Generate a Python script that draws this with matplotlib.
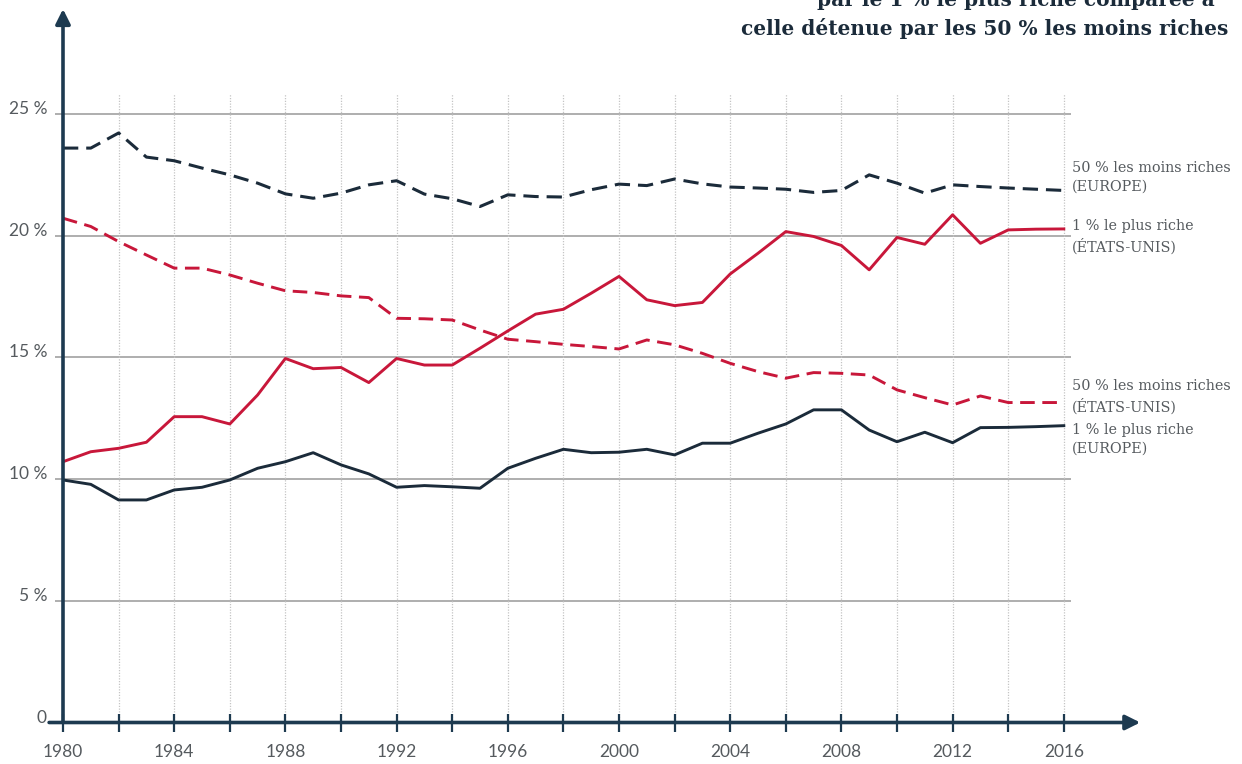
import matplotlib
matplotlib.use("Agg")
import matplotlib.pyplot as plt

years = list(range(1980, 2017))

bottom50_europe = [23.59, 23.59, 24.21, 23.22, 23.07, 22.77, 22.49, 22.15, 21.71, 21.53,
                   21.74, 22.08, 22.25, 21.70, 21.51, 21.19, 21.67, 21.60, 21.58, 21.88,
                   22.11, 22.05, 22.32, 22.12, 21.99, 21.95, 21.90, 21.77, 21.85, 22.49,
                   22.15, 21.74, 22.08, 22.01, 21.95, 21.90, 21.85]
top1_us = [10.71, 11.12, 11.26, 11.51, 12.56, 12.56, 12.26, 13.45, 14.95, 14.53,
           14.58, 13.96, 14.95, 14.68, 14.68, 15.37, 16.08, 16.77, 16.97, 17.63,
           18.32, 17.36, 17.12, 17.25, 18.42, 19.27, 20.16, 19.96, 19.59, 18.59,
           19.92, 19.64, 20.85, 19.68, 20.23, 20.26, 20.27]
bottom50_us = [20.71, 20.37, 19.75, 19.20, 18.66, 18.66, 18.38, 18.04, 17.73, 17.66,
               17.52, 17.45, 16.60, 16.58, 16.53, 16.12, 15.74, 15.64, 15.53, 15.44,
               15.34, 15.71, 15.51, 15.16, 14.75, 14.41, 14.14, 14.37, 14.34, 14.27,
               13.66, 13.34, 13.04, 13.41, 13.14, 13.14, 13.14]
top1_europe = [9.96, 9.78, 9.14, 9.14, 9.55, 9.66, 9.96, 10.44, 10.71, 11.08,
               10.58, 10.21, 9.66, 9.73, 9.68, 9.62, 10.44, 10.85, 11.22, 11.08,
               11.10, 11.22, 10.99, 11.47, 11.47, 11.88, 12.26, 12.84, 12.84, 12.01,
               11.53, 11.92, 11.49, 12.11, 12.12, 12.15, 12.19]

y_gridlines = [5, 10, 15, 20, 25]
y_labels = ["5 %", "10 %", "15 %", "20 %", "25 %"]
x_label_years = list(range(1980, 2017, 4))
x_tick_years = list(range(1980, 2017, 2))

series_labels = [
    ("50 % les moins riches\n(EUROPE)", 22.38),
    ("1 % le plus riche\n(ÉTATS-UNIS)", 19.94),
    ("50 % les moins riches\n(ÉTATS-UNIS)", 13.37),
    ("1 % le plus riche\n(EUROPE)", 11.64),
]

NAVY = "#1b2b3a"
AXIS = "#1d3a50"
RED = "#c8173a"
GRID = "#a8a8a8"
TEXT = "#555a5e"

W, H = 1242, 764
fig = plt.figure(figsize=(W / 100, H / 100), dpi=100)
fig.patch.set_facecolor("white")

# axes placed in pixel terms: 1980 -> x=63, value 0 -> y=722.5
px_per_year = 27.8
px_per_pct = 24.35
x0_px, y0_px = 63, 722.5
right_px, top_px = 1160, 5
ax = fig.add_axes([x0_px / W, (H - y0_px) / H, (right_px - x0_px) / W, (y0_px - top_px) / H])
ax.set_xlim(1980, 1980 + (right_px - x0_px) / px_per_year)
ax.set_ylim(0, (y0_px - top_px) / px_per_pct)
for s in ax.spines.values():
    s.set_visible(False)
ax.set_facecolor("none")

# grid
ax.hlines(y_gridlines, 1979.7, 2016.25, colors=GRID, linewidth=1.3, zorder=1, clip_on=False)
ax.vlines(x_tick_years[1:], 0, 25.8, colors="#c4c4c4", linewidth=0.9,
          linestyles=(0, (1, 1.2)), zorder=1)

# data
dash = (0, (5.0, 2.6))
ax.plot(years, bottom50_europe, color=NAVY, lw=2.2, linestyle=dash, zorder=3)
ax.plot(years, bottom50_us, color=RED, lw=2.1, linestyle=dash, zorder=3)
ax.plot(years, top1_us, color=RED, lw=2.1, zorder=3)
ax.plot(years, top1_europe, color=NAVY, lw=2.1, zorder=3)

# axes with arrows
ax.annotate("", xy=(2018.75, 0), xytext=(1979.5, 0),
            arrowprops=dict(arrowstyle="-|>", color=AXIS, lw=2.6, mutation_scale=22,
                            shrinkA=0, shrinkB=0), annotation_clip=False, zorder=4)
ax.annotate("", xy=(1980, 29.3), xytext=(1980, 0),
            arrowprops=dict(arrowstyle="-|>", color=AXIS, lw=2.6, mutation_scale=22,
                            shrinkA=0, shrinkB=0), annotation_clip=False, zorder=4)

# x ticks
ax.set_xticks(x_tick_years)
ax.set_xticklabels([str(y) if y in x_label_years else "" for y in x_tick_years],
                   fontsize=12.5, color=TEXT, family="Lato")
ax.tick_params(axis="x", direction="inout", length=13, width=1.6, color=AXIS, pad=9)
ax.set_yticks([])

# y labels
for v, lab in zip(y_gridlines, y_labels):
    ax.text(1979.45, v + 0.2, lab, ha="right", va="center", fontsize=12.5,
            color=TEXT, family="Lato")
ax.text(1979.4, 0.2, "0", ha="right", va="center", fontsize=12.5, color=TEXT, family="Lato")

# series labels
for txt, yv in series_labels:
    ax.text(2016.3, yv, txt, ha="left", va="center", fontsize=10.4, color=TEXT,
            family="DejaVu Serif", linespacing=1.4, clip_on=False)

# title
fig.text(1215 / W, 1 - 6 / H, "par le 1 % le plus riche comparée à", ha="right", va="baseline",
         fontsize=14.5, fontweight="bold", color=NAVY, family="DejaVu Serif")
fig.text(1228 / W, 1 - 35 / H, "celle détenue par les 50 % les moins riches", ha="right",
         va="baseline", fontsize=14.5, fontweight="bold", color=NAVY, family="DejaVu Serif")

fig.savefig("out.png", dpi=100, facecolor="white")
